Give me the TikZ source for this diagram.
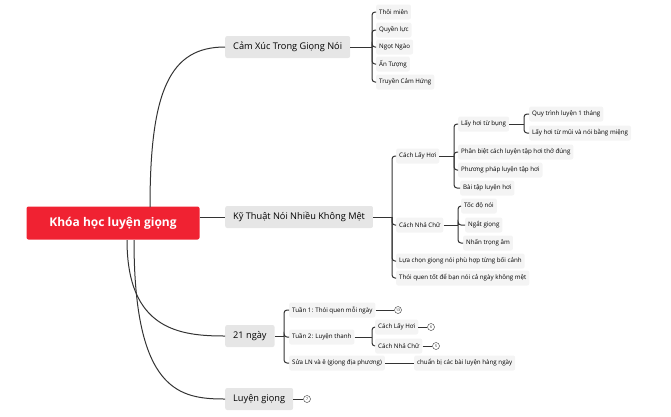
\documentclass[tikz,border=0pt]{standalone}
\usepackage{fontspec}
\setmainfont{Open Sans}
\usepackage{xcolor}
\definecolor{rootred}{HTML}{F02232}
\definecolor{boxgray}{HTML}{E6E6E6}
\definecolor{leafgray}{HTML}{F4F4F4}
\definecolor{linegray}{HTML}{333333}
\tikzset{
  root/.style={fill=rootred, rounded corners=2pt, text=white, font=\fontsize{12}{14}\selectfont\bfseries, minimum width=173pt, minimum height=33pt},
  branch/.style={fill=boxgray, rounded corners=2pt, font=\fontsize{9.2}{11}\selectfont, minimum height=22pt, inner xsep=8pt, anchor=west},
  leaf/.style={fill=leafgray, rounded corners=2pt, font=\fontsize{6.2}{7.5}\selectfont, anchor=west, minimum height=15pt, inner xsep=3pt},
  badge/.style={draw=linegray, circle, inner sep=0.6pt, minimum size=7pt, font=\fontsize{3.5}{4}\selectfont},
  link/.style={draw=linegray, line width=1pt},
  fork/.style={draw=linegray, line width=1pt, rounded corners=3pt}
}
\begin{document}
\begin{tikzpicture}[x=1pt, y=-1pt]
        \useasboundingbox (0,0) rectangle (671,416);

        % Root and main branches
        \node[root] (root) at (113,223) {Khóa học luyện giọng};
        \node[branch] (camxuc) at (225,47) {Cảm Xúc Trong Giọng Nói};
        \node[branch] (kythuat) at (225,217) {Kỹ Thuật Nói Nhiều Không Mệt};
        \node[branch] (ngay) at (225,336) {21 ngày};
        \node[branch] (luyen) at (225,399) {Luyện giọng};

        \draw[link] (150,207) .. controls (150,90) and (170,47) .. (camxuc.west);
        \draw[link] (root.east |- kythuat) -- (kythuat.west);
        \draw[link] (127,240) .. controls (127,330) and (180,336) .. (ngay.west);
        \draw[link] (134,240) .. controls (134,392) and (180,399) .. (luyen.west);

        % Cam xuc
        \node[leaf] (thoimien) at (376,12) {Thôi miên};
        \node[leaf] (quyenluc) at (376,30) {Quyền lực};
        \node[leaf] (ngotngao) at (376,47) {Ngọt Ngào};
        \node[leaf] (antuong) at (376,64) {Ấn Tượng};
        \node[leaf] (truyen) at (376,82) {Truyền Cảm Hứng};
        \draw[link] (camxuc.east) -- (372,47);
        \foreach \n in {thoimien,quyenluc,ngotngao,antuong,truyen}
          \draw[fork] (372,47) |- (\n.west);

        % Ky thuat
        \node[leaf] (laythoi) at (396,156) {Cách Lấy Hơi};
        \node[leaf] (nhachu) at (396,225) {Cách Nhả Chữ};
        \node[leaf] (luachon) at (396,261) {Lựa chọn giọng nói phù hợp từng bối cảnh};
        \node[leaf] (thoiquen) at (396,278) {Thói quen tốt để bạn nói cả ngày không mệt};
        \draw[link] (kythuat.east) -- (392,217);
        \foreach \n in {laythoi,nhachu,luachon,thoiquen}
          \draw[fork] (392,217) |- (\n.west);

        \node[leaf] (tubung) at (458,124) {Lấy hơi từ bụng};
        \node[leaf] (phanbiet) at (458,152) {Phân biệt cách luyện tập hơi thở đúng};
        \node[leaf] (phuongphap) at (458,170) {Phương pháp luyện tập hơi};
        \node[leaf] (baitap) at (460,188) {Bài tập luyện hơi};
        \draw[link] (laythoi.east) -- (454,156);
        \foreach \n in {tubung,phanbiet,phuongphap,baitap}
          \draw[fork] (454,156) |- (\n.west);

        \node[leaf] (quytrinh) at (529,114) {Quy trình luyện 1 tháng};
        \node[leaf] (tumui) at (529,133) {Lấy hơi từ mũi và nói bằng miệng};
        \draw[link] (tubung.east) -- (524,124);
        \foreach \n in {quytrinh,tumui}
          \draw[fork] (524,124) |- (\n.west);

        \node[leaf] (tocdo) at (461,206) {Tốc độ nói};
        \node[leaf] (ngat) at (465,225) {Ngắt giọng};
        \node[leaf] (nhan) at (463,243) {Nhấn trọng âm};
        \draw[link] (nhachu.east) -- (458,225);
        \foreach \n in {tocdo,ngat,nhan}
          \draw[fork] (458,225) |- (\n.west);

        % 21 ngay
        \node[leaf] (tuan1) at (289,310) {Tuần 1: Thói quen mỗi ngày};
        \node[leaf] (tuan2) at (289,337) {Tuần 2: Luyện thanh};
        \node[leaf] (sua) at (289,363) {Sửa LN và ê (giọng địa phương)};
        \draw[link] (ngay.east) -- (284,336);
        \foreach \n in {tuan1,tuan2,sua}
          \draw[fork] (284,336) |- (\n.west);

        \node[leaf] (laythoi2) at (375,327) {Cách Lấy Hơi};
        \node[leaf] (nhachu2) at (375,346) {Cách Nhả Chữ};
        \draw[link] (tuan2.east) -- (372,337);
        \foreach \n in {laythoi2,nhachu2}
          \draw[fork] (372,337) |- (\n.west);

        \node[leaf] (chuanbi) at (414,363) {chuẩn bị các bài luyện hàng ngày};
        \draw[link] (sua.east) -- (chuanbi.west);

        % Badges
        \node[badge] (b13) at (398,310) {13};
        \node[badge] (b6) at (431,327) {6};
        \node[badge] (b5) at (436,346) {5};
        \node[badge] (b7) at (307,399) {7};
        \draw[link, line width=0.6pt] (tuan1.east) -- (b13);
        \draw[link, line width=0.6pt] (laythoi2.east) -- (b6);
        \draw[link, line width=0.6pt] (nhachu2.east) -- (b5);
        \draw[link, line width=0.6pt] (luyen.east) -- (b7);
\end{tikzpicture}
\end{document}
